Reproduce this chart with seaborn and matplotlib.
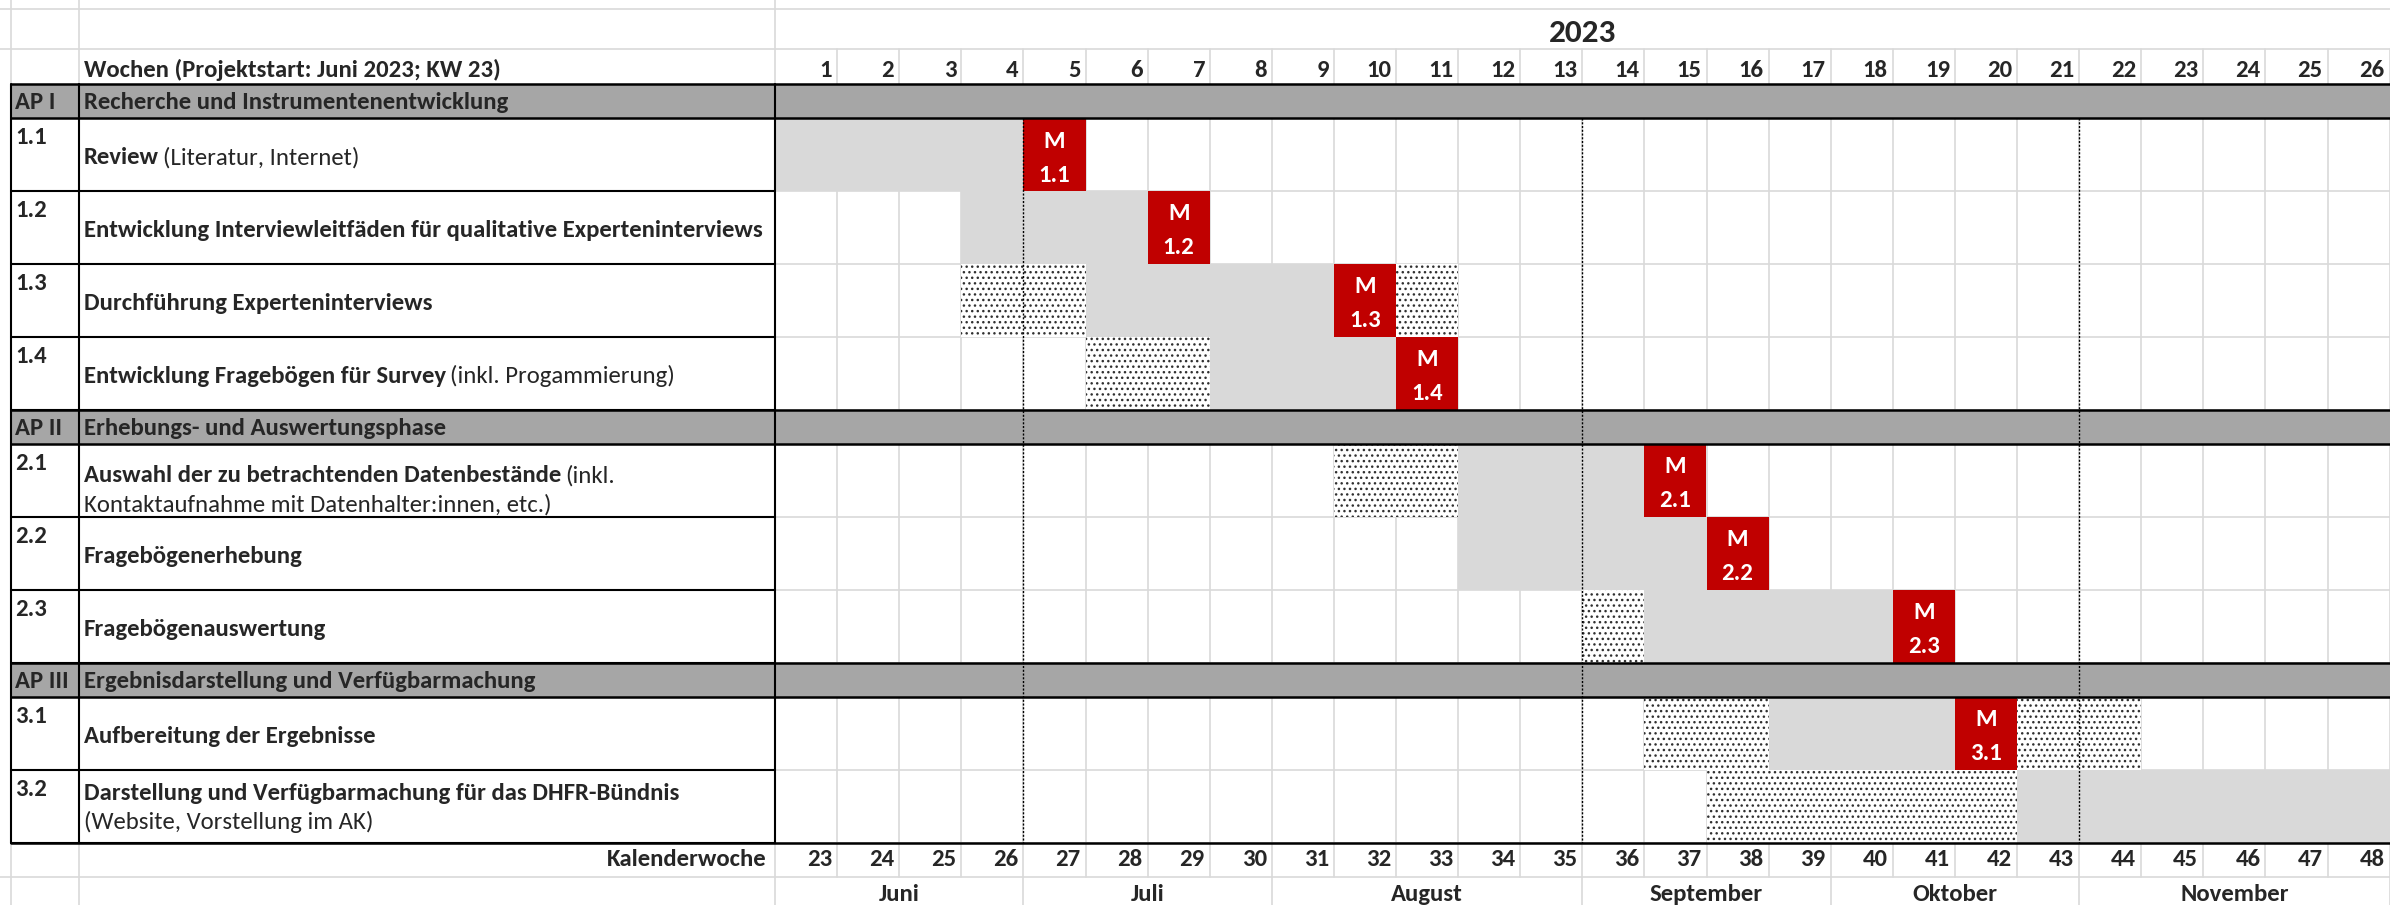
import matplotlib
matplotlib.use("Agg")
import matplotlib.pyplot as plt
from matplotlib import font_manager as fm
from matplotlib.patches import Rectangle
import seaborn as sns

# Stil: weiss; Calibri-aehnliche Schrift mit echtem Bold-Schnitt suchen
sns.set_theme(style="white")
bold_fams = {f.name for f in fm.fontManager.ttflist
             if f.weight in (700, "bold") or str(f.weight) == "700"}
family = "DejaVu Sans"
for cand in ["Carlito", "Lato", "Open Sans", "Noto Sans", "Liberation Sans"]:
    if cand in bold_fams:
        family = cand
        break
plt.rcParams['font.family'] = [family, 'DejaVu Sans']
plt.rcParams['hatch.linewidth'] = 1.0

# ---- Daten ----
year_label = "2023"
weeks = list(range(1, 27))
calendar_weeks = list(range(23, 49))
months = ["Juni", "Juli", "August", "September", "Oktober", "November"]
month_len = [4, 4, 5, 4, 4, 5]          # Projektwochen je Monat
dashed_after = [4, 13, 21]              # gestrichelte Trennlinien nach diesen Wochen

ap_codes = ["AP I", "AP II", "AP III"]
ap_titles = ["Recherche und Instrumentenentwicklung",
             "Erhebungs- und Auswertungsphase",
             "Ergebnisdarstellung und Verfügbarmachung"]

task_ids = ["1.1", "1.2", "1.3", "1.4", "2.1", "2.2", "2.3", "3.1", "3.2"]
task_ap = [0, 0, 0, 0, 1, 1, 1, 2, 2]
task_bold = ["Review",
             "Entwicklung Interviewleitfäden für qualitative Experteninterviews",
             "Durchführung Experteninterviews",
             "Entwicklung Fragebögen für Survey",
             "Auswahl der zu betrachtenden Datenbestände",
             "Fragebögenerhebung",
             "Fragebögenauswertung",
             "Aufbereitung der Ergebnisse",
             "Darstellung und Verfügbarmachung für das DHFR-Bündnis"]
task_rest = ["(Literatur, Internet)", "", "", "(inkl. Progammierung)", "(inkl.",
             "", "", "", ""]
task_line2 = ["", "", "", "", "Kontaktaufnahme mit Datenhalter:innen, etc.)",
              "", "", "", "(Website, Vorstellung im AK)"]

# (Startwoche, Dauer)
prep_spans = [[], [], [(4, 2), (11, 1)], [(6, 2)], [(10, 2)], [], [(14, 1)],
              [(15, 2), (21, 2)], [(16, 5)]]
work_spans = [[(1, 4)], [(4, 3)], [(6, 4)], [(8, 3)], [(12, 3)], [(12, 4)],
              [(15, 4)], [(17, 3)], [(21, 6)]]
milestone_week = [5, 7, 10, 11, 15, 16, 19, 20, None]
milestone_label = ["1.1", "1.2", "1.3", "1.4", "2.1", "2.2", "2.3", "3.1", None]

# ---- Layout (Pixel) ----
W, H, DPI = 2390, 905, 100
COL = 62.1        # Breite einer Wochenspalte
X0 = 775          # Beginn Woche 1
XL = 11           # linker Rand
XN = 79           # Trennung Nummer | Text
AP_H, TASK_H = 34.5, 72.8

def xu(px):
    return (px - X0) / COL

GRID = "#d9d9d9"
BAR = "#a6a6a6"
WORK = "#d9d9d9"
RED = "#c00000"
FS = 17.8

# Zeilenstruktur
rows = []
y = 84.0
for a in range(len(ap_codes)):
    rows.append(("ap", a, y, y + AP_H))
    y += AP_H
    for t in range(len(task_ids)):
        if task_ap[t] == a:
            rows.append(("task", t, y, y + TASK_H))
            y += TASK_H
body_top, body_bot = 84.0, y
kw_top, kw_bot = body_bot, body_bot + 34.5

fig = plt.figure(figsize=(W / DPI, H / DPI), dpi=DPI)
ax = fig.add_axes([0, 0, 1, 1])
ax.set_xlim(xu(0), xu(W))
ax.set_ylim(H, 0)
ax.axis("off")

x_end = xu(W)
lw_g = 1.2

# ---- helle Gitterlinien ----
for yy in [9, 49, kw_bot]:
    ax.plot([xu(0), x_end], [yy, yy], color=GRID, lw=lw_g, zorder=1)
for xx in [XL, XN, X0]:
    ax.plot([xu(xx)] * 2, [0, body_top], color=GRID, lw=lw_g, zorder=1)
    ax.plot([xu(xx)] * 2, [body_bot, H], color=GRID, lw=lw_g, zorder=1)
for w in weeks:
    ax.plot([w, w], [49, body_top], color=GRID, lw=lw_g, zorder=1)
    ax.plot([w, w], [body_top, kw_bot], color=GRID, lw=lw_g, zorder=1)
edge = 0
for n in month_len:
    edge += n
    ax.plot([edge, edge], [kw_bot, H], color=GRID, lw=lw_g, zorder=1)
for kind, i, y0, y1 in rows:
    if kind == "task":
        ax.plot([0, x_end], [y1, y1], color=GRID, lw=lw_g, zorder=1)

# ---- Flaechen ----
for kind, i, y0, y1 in rows:
    if kind == "ap":
        ax.add_patch(Rectangle((xu(XL), y0), x_end - xu(XL), y1 - y0,
                               facecolor=BAR, edgecolor="none", zorder=2))
        ax.text(xu(15), y0 + 25, ap_codes[i], fontsize=FS, fontweight="bold",
                va="baseline", ha="left", zorder=6)
        ax.text(xu(84), y0 + 25, ap_titles[i], fontsize=FS, fontweight="bold",
                va="baseline", ha="left", zorder=6)
        continue
    for s, d in work_spans[i]:
        ax.add_patch(Rectangle((s - 1, y0), d, y1 - y0, facecolor=WORK,
                               edgecolor="none", zorder=2))
    for s, d in prep_spans[i]:
        ax.add_patch(Rectangle((s - 1, y0), d, y1 - y0, facecolor="white",
                               edgecolor="#303030", lw=0, hatch="...", zorder=2))
    mw = milestone_week[i]
    if mw is not None:
        ax.add_patch(Rectangle((mw - 1, y0), 1, y1 - y0, facecolor=RED,
                               edgecolor="none", zorder=3))
        ax.text(mw - 0.5, y0 + 29, "M", color="white", fontsize=FS,
                fontweight="bold", ha="center", va="baseline", zorder=6)
        ax.text(mw - 0.5, y0 + 63, milestone_label[i], color="white", fontsize=FS,
                fontweight="bold", ha="center", va="baseline", zorder=6)

# ---- schwarze Rahmenlinien ----
for kind, i, y0, y1 in rows:
    if kind == "ap":
        ax.plot([xu(XL), x_end], [y0, y0], color="black", lw=1.8, zorder=4)
        ax.plot([xu(XL), x_end], [y1, y1], color="black", lw=1.8, zorder=4)
    else:
        ax.plot([xu(XL), 0], [y1, y1], color="black", lw=1.5, zorder=4)
ax.plot([xu(XL), x_end], [body_bot, body_bot], color="black", lw=1.8, zorder=4)
for xx in [XL, XN, X0]:
    ax.plot([xu(xx)] * 2, [body_top, body_bot], color="black", lw=1.5, zorder=4)

# gestrichelte Monatstrenner
for w in dashed_after:
    ax.plot([w, w], [body_top + AP_H, body_bot], color="black", lw=1.0,
            ls=(0, (1.5, 1.2)), zorder=5)

# ---- Texte Kopf ----
ax.text(13, 42, year_label, fontsize=24, fontweight="bold", ha="center",
        va="baseline")
ax.text(xu(84), 77, "Wochen (Projektstart: Juni 2023; KW 23)", fontsize=FS,
        fontweight="bold", ha="left", va="baseline")
for w in weeks:
    ax.text(w - 5 / COL, 77, str(w), fontsize=FS, fontweight="bold",
            ha="right", va="baseline")

# ---- Texte Aufgaben ----
renderer = fig.canvas.get_renderer()
inv = ax.transData.inverted()
for kind, i, y0, y1 in rows:
    if kind != "task":
        continue
    ax.text(xu(15), y0 + 26, task_ids[i], fontsize=FS, fontweight="bold",
            ha="left", va="baseline")
    if task_line2[i]:
        yb1 = y0 + (38 if task_ids[i] == "2.1" else 30)
        yb2 = yb1 + 29
    else:
        yb1 = y0 + 46
        yb2 = None
    t = ax.text(xu(84), yb1, task_bold[i], fontsize=FS, fontweight="bold",
                ha="left", va="baseline")
    if task_rest[i]:
        bb = t.get_window_extent(renderer)
        xr = inv.transform((bb.x1 + 4, bb.y0))[0]
        ax.text(xr, yb1, task_rest[i], fontsize=FS, ha="left", va="baseline")
    if yb2 is not None:
        ax.text(xu(84), yb2, task_line2[i], fontsize=FS, ha="left", va="baseline")

# ---- Fusszeilen ----
ax.text(xu(767), kw_top + 23, "Kalenderwoche", fontsize=FS, fontweight="bold",
        ha="right", va="baseline")
for w, k in zip(weeks, calendar_weeks):
    ax.text(w - 5 / COL, kw_top + 23, str(k), fontsize=FS, fontweight="bold",
            ha="right", va="baseline")
start = 0
for m, n in zip(months, month_len):
    ax.text(start + n / 2, kw_bot + 24, m, fontsize=FS, fontweight="bold",
            ha="center", va="baseline")
    start += n

fig.savefig("out.png", dpi=DPI)
